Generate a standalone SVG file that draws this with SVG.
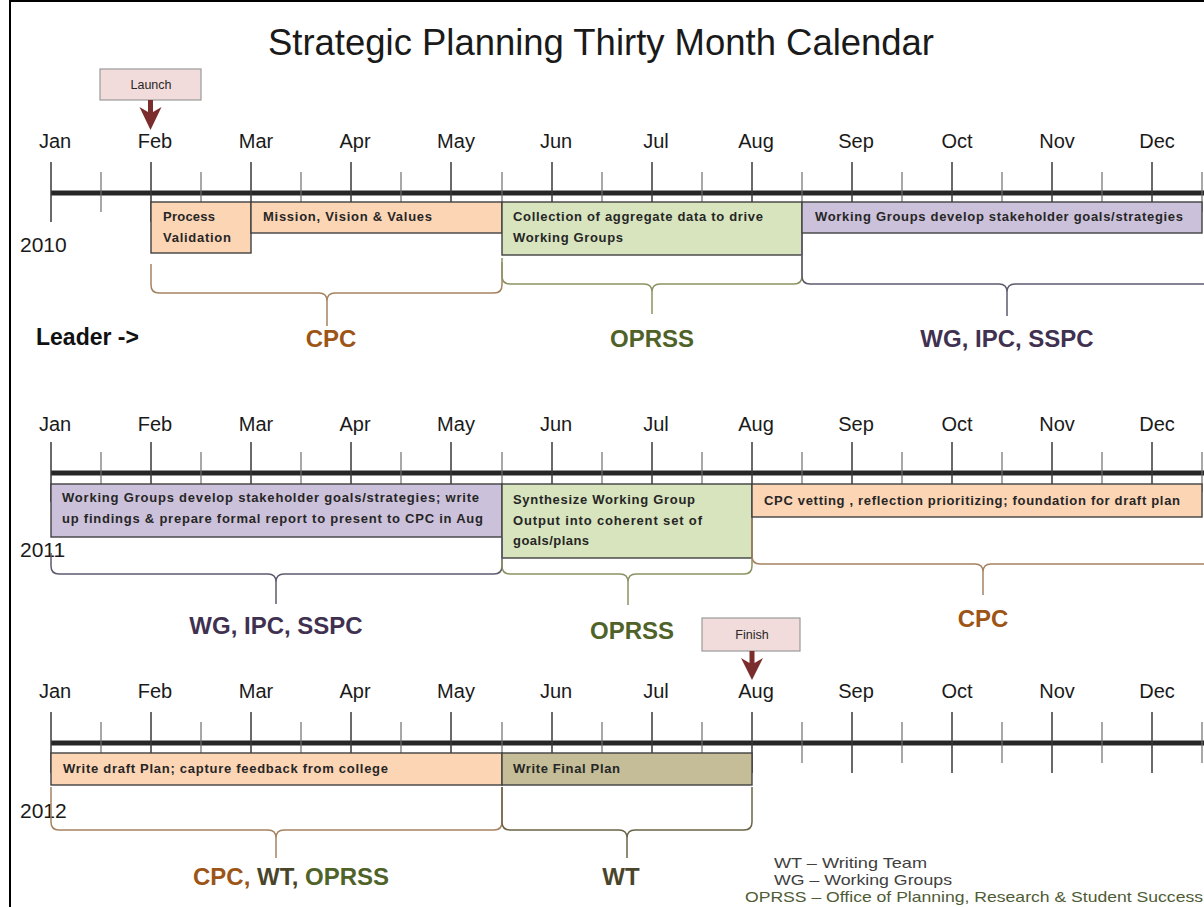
<svg xmlns="http://www.w3.org/2000/svg" width="1204" height="907" viewBox="0 0 1204 907">
<defs>
<style>
.bg{fill:#ffffff}
.frame{fill:none;stroke:#000;stroke-width:2}
.axis{stroke:#262626;stroke-width:5;fill:none}
.mt{stroke:#3a3a3a;stroke-width:1.5;fill:none}
.ht{stroke:#6e6e6e;stroke-width:1.2;fill:none}
.mo{font-family:"Liberation Sans",Arial,sans-serif;font-size:20px;fill:#1a1a1a;text-anchor:middle}
.yr{font-family:"Liberation Sans",Arial,sans-serif;font-size:21px;fill:#1a1a1a}
.bt{font-family:"Liberation Sans",Arial,sans-serif;font-weight:bold;font-size:13px;fill:#262626}
.peach{fill:#fcd5b5;stroke:#404040;stroke-width:1.4}
.green{fill:#d7e4bd;stroke:#404040;stroke-width:1.4}
.lav{fill:#ccc1da;stroke:#404040;stroke-width:1.4}
.tan{fill:#c4bd97;stroke:#404040;stroke-width:1.4}
.pink{fill:#f2dcdb;stroke:#9a9a9a;stroke-width:1.2}
.small{font-family:"Liberation Sans",Arial,sans-serif;font-size:12.5px;fill:#262626;text-anchor:middle}
.lab{font-family:"Liberation Sans",Arial,sans-serif;font-weight:bold;font-size:24px;text-anchor:middle}
.cpc{fill:#9c5516}
.opr{fill:#4f6228}
.wg{fill:#403151}
.wt{fill:#4a452a}
.brace{fill:none;stroke-width:1.5}
.bcpc{stroke:#a58360}
.bopr{stroke:#8a9462}
.bwg{stroke:#5f5a6e}
.bwt{stroke:#6b6446}
.arrow{fill:#7b2c2c}
.leg{font-family:"Liberation Sans",Arial,sans-serif;font-size:15px;fill:#404040}
.leg2{fill:#4f5b35}
</style>
</defs>
<rect class="bg" x="0" y="0" width="1204" height="907"/>
<path class="frame" d="M10,907 V1 H1204"/>

<text x="268" y="55" font-family="'Liberation Sans',Arial,sans-serif" font-size="36" fill="#1a1a1a" textLength="666" lengthAdjust="spacingAndGlyphs">Strategic Planning Thirty Month Calendar</text>

<!-- timelines -->
<g id="timeline-2010">
<path class="axis" d="M51,193 H1204"/>
<path class="mt" d="M51,162V222 M151,162V222 M251,162V222 M351,162V222 M451,162V222 M552,162V222 M652,162V222 M752,162V222 M852,162V222 M952,162V222 M1052,162V222 M1152,162V222"/>
<path class="ht" d="M101,172V212 M201,172V212 M301,172V212 M401,172V212 M502,172V212 M602,172V212 M702,172V212 M802,172V212 M902,172V212 M1002,172V212 M1102,172V212 M1202,172V212"/>
<g class="mo">
<text x="55" y="148">Jan</text><text x="155" y="148">Feb</text><text x="256" y="148">Mar</text><text x="355" y="148">Apr</text><text x="456" y="148">May</text><text x="556" y="148">Jun</text><text x="656" y="148">Jul</text><text x="756" y="148">Aug</text><text x="856" y="148">Sep</text><text x="957" y="148">Oct</text><text x="1057" y="148">Nov</text><text x="1157" y="148">Dec</text>
</g>
<text class="yr" x="20" y="252">2010</text>
</g>

<g id="timeline-2011">
<path class="axis" d="M51,473 H1204"/>
<path class="mt" d="M51,442V502 M151,442V502 M251,442V502 M351,442V502 M451,442V502 M552,442V502 M652,442V502 M752,442V502 M852,442V502 M952,442V502 M1052,442V502 M1152,442V502"/>
<path class="ht" d="M101,452V492 M201,452V492 M301,452V492 M401,452V492 M502,452V492 M602,452V492 M702,452V492 M802,452V492 M902,452V492 M1002,452V492 M1102,452V492 M1202,452V492"/>
<g class="mo">
<text x="55" y="431">Jan</text><text x="155" y="431">Feb</text><text x="256" y="431">Mar</text><text x="355" y="431">Apr</text><text x="456" y="431">May</text><text x="556" y="431">Jun</text><text x="656" y="431">Jul</text><text x="756" y="431">Aug</text><text x="856" y="431">Sep</text><text x="957" y="431">Oct</text><text x="1057" y="431">Nov</text><text x="1157" y="431">Dec</text>
</g>
<text class="yr" x="20" y="557">2011</text>
</g>

<g id="timeline-2012">
<path class="axis" d="M51,743 H1204"/>
<path class="mt" d="M51,712V773 M151,712V773 M251,712V773 M351,712V773 M451,712V773 M552,712V773 M652,712V773 M752,712V773 M852,712V773 M952,712V773 M1052,712V773 M1152,712V773"/>
<path class="ht" d="M101,722V763 M201,722V763 M301,722V763 M401,722V763 M502,722V763 M602,722V763 M702,722V763 M802,722V763 M902,722V763 M1002,722V763 M1102,722V763 M1202,722V763"/>
<g class="mo">
<text x="55" y="698">Jan</text><text x="155" y="698">Feb</text><text x="256" y="698">Mar</text><text x="355" y="698">Apr</text><text x="456" y="698">May</text><text x="556" y="698">Jun</text><text x="656" y="698">Jul</text><text x="756" y="698">Aug</text><text x="856" y="698">Sep</text><text x="957" y="698">Oct</text><text x="1057" y="698">Nov</text><text x="1157" y="698">Dec</text>
</g>
<text class="yr" x="20" y="818">2012</text>
</g>

<!-- row 1 boxes -->
<g id="process-validation">
<rect class="peach" x="151" y="202" width="100" height="51"/>
<text class="bt" x="163" y="221" textLength="52" lengthAdjust="spacing">Process</text>
<text class="bt" x="163" y="242" textLength="68" lengthAdjust="spacing">Validation</text>
</g>
<g id="mission">
<rect class="peach" x="251" y="202" width="251" height="31"/>
<text class="bt" x="263" y="221" textLength="169" lengthAdjust="spacing">Mission, Vision &amp; Values</text>
</g>
<g id="collection">
<rect class="green" x="502" y="202" width="300" height="53"/>
<text class="bt" x="513" y="221" textLength="250" lengthAdjust="spacing">Collection of aggregate data to drive</text>
<text class="bt" x="513" y="242" textLength="110" lengthAdjust="spacing">Working Groups</text>
</g>
<g id="wg-develop-2010">
<rect class="lav" x="802" y="202" width="400" height="31"/>
<text class="bt" x="815" y="221" textLength="368" lengthAdjust="spacing">Working Groups develop stakeholder goals/strategies</text>
</g>

<!-- row 2 boxes -->
<g id="wg-develop-2011">
<rect class="lav" x="51" y="484" width="451" height="53"/>
<text class="bt" x="62" y="502" textLength="417" lengthAdjust="spacing">Working Groups develop stakeholder goals/strategies; write</text>
<text class="bt" x="62" y="523" textLength="421" lengthAdjust="spacing">up findings  &amp; prepare formal report to  present to CPC in Aug</text>
</g>
<g id="synthesize">
<rect class="green" x="502" y="484" width="250" height="74"/>
<text class="bt" x="513" y="504" textLength="182" lengthAdjust="spacing">Synthesize Working Group</text>
<text class="bt" x="513" y="525" textLength="189" lengthAdjust="spacing">Output into coherent set of</text>
<text class="bt" x="513" y="545" textLength="76" lengthAdjust="spacing">goals/plans</text>
</g>
<g id="cpc-vetting">
<rect class="peach" x="752" y="484" width="450" height="33"/>
<text class="bt" x="764" y="505" textLength="416" lengthAdjust="spacing">CPC vetting , reflection prioritizing; foundation  for draft plan</text>
</g>

<!-- row 3 boxes -->
<g id="write-draft">
<rect class="peach" x="51" y="753" width="451" height="32"/>
<text class="bt" x="63" y="773" textLength="325" lengthAdjust="spacing">Write draft Plan; capture feedback from college</text>
</g>
<g id="write-final">
<rect class="tan" x="502" y="753" width="250" height="32"/>
<text class="bt" x="513" y="773" textLength="107" lengthAdjust="spacing">Write Final Plan</text>
</g>

<!-- milestones -->
<g id="launch">
<rect class="pink" x="100" y="69" width="101" height="31"/>
<text class="small" x="151" y="89">Launch</text>
</g>
<g id="finish">
<rect class="pink" x="702" y="618" width="98" height="33"/>
<text class="small" x="752" y="639">Finish</text>
</g>

<g id="connectors">
<path class="arrow" d="M148,100 H153 V112 L161.5,107 L150.5,130 L139.5,107 L148,112 Z"/>
<path class="arrow" d="M749.5,651 H754.5 V663 L763,658 L752,680 L741,658 L749.5,663 Z"/>

<path class="brace bcpc" d="M151,264 V285 Q151,293 159,293 H319 Q327,293 327,301 V326 M327,301 Q327,293 335,293 H494 Q502,293 502,285 V262"/>
<path class="brace bopr" d="M502,258 V276 Q502,284 510,284 H644 Q652,284 652,292 V314 M652,292 Q652,284 660,284 H794 Q802,284 802,276 V256"/>
<path class="brace bwg" d="M802,234 V276 Q802,284 810,284 H999 Q1007,284 1007,292 V316 M1007,292 Q1007,284 1015,284 H1210"/>

<path class="brace bwg" d="M51,553 V566 Q51,574 59,574 H268 Q276,574 276,582 V604 M276,582 Q276,574 284,574 H494 Q502,574 502,566 V537"/>
<path class="brace bopr" d="M502,560 V566 Q502,574 510,574 H620 Q628,574 628,582 V605 M628,582 Q628,574 636,574 H744 Q752,574 752,566 V558"/>
<path class="brace bcpc" d="M752,518 V556 Q752,564 760,564 H975 Q983,564 983,572 V595 M983,572 Q983,564 991,564 H1210"/>

<path class="brace bcpc" d="M51,787 V822 Q51,830 59,830 H268 Q276,830 276,838 V858 M276,838 Q276,830 284,830 H494 Q502,830 502,822 V787"/>
<path class="brace bwt" d="M502,787 V822 Q502,830 510,830 H619 Q627,830 627,838 V858 M627,838 Q627,830 635,830 H744 Q752,830 752,822 V787"/>
</g>

<!-- leader labels -->
<g id="leaders">
<text x="36" y="345" font-family="'Liberation Sans',Arial,sans-serif" font-weight="bold" font-size="23" fill="#111">Leader  -&gt;</text>
<text class="lab cpc" x="331" y="347">CPC</text>
<text class="lab opr" x="652" y="347">OPRSS</text>
<text class="lab wg" x="1007" y="347">WG, IPC, SSPC</text>
<text class="lab wg" x="276" y="634">WG, IPC, SSPC</text>
<text class="lab opr" x="632" y="639">OPRSS</text>
<text class="lab cpc" x="983" y="627">CPC</text>
<text class="lab" x="291" y="885"><tspan class="cpc">CPC, </tspan><tspan class="wt">WT, </tspan><tspan class="opr">OPRSS</tspan></text>
<text class="lab wt" x="621" y="885">WT</text>
</g>

<g id="legend">
<text class="leg" x="774" y="868" textLength="153" lengthAdjust="spacingAndGlyphs">WT – Writing Team</text>
<text class="leg" x="774" y="885" textLength="178" lengthAdjust="spacingAndGlyphs">WG – Working Groups</text>
<text class="leg leg2" x="745" y="902" textLength="458" lengthAdjust="spacingAndGlyphs">OPRSS – Office of Planning, Research &amp; Student Success</text>
</g>
</svg>
